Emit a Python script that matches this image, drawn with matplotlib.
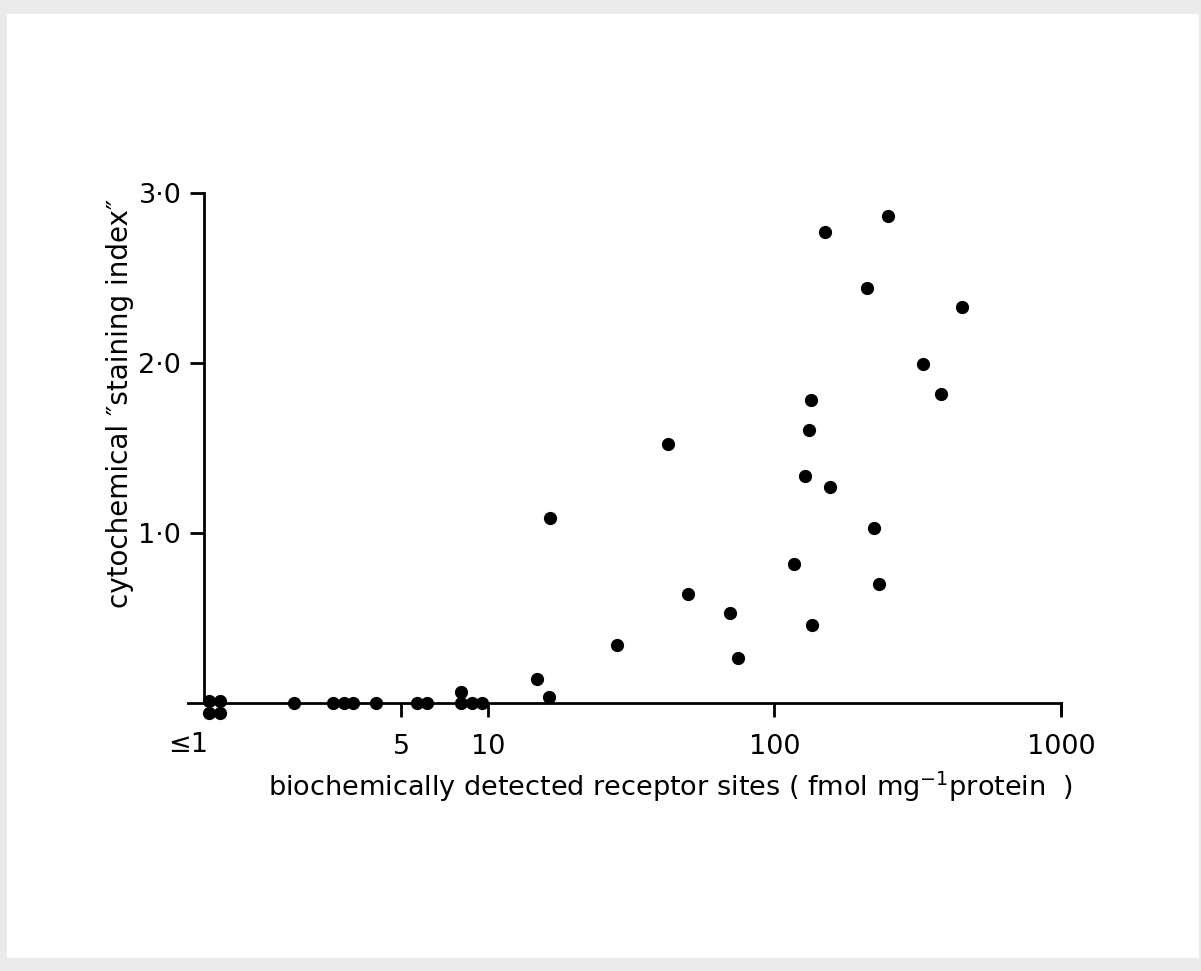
import matplotlib
matplotlib.use("Agg")
import matplotlib.pyplot as plt
from matplotlib.patches import Rectangle

# receptor sites (fmol/mg protein) vs cytochemical staining index
receptor_sites = [1.07, 1.16, 1.07, 1.16, 2.11, 2.88, 3.16, 3.38, 4.07, 5.66, 6.16,
                  8.05, 8.05, 8.83, 9.58, 14.8, 16.3, 16.5, 28.3, 42.7, 50.1, 70.3,
                  74.9, 117, 128, 132.5, 134, 135, 150.6, 156, 209.7, 222, 232,
                  249, 330, 383, 452]
staining_index = [0.01, 0.01, -0.06, -0.06, 0.0, 0.0, 0.0, 0.0, 0.0, 0.0, 0.0,
                  0.066, 0.0, 0.0, 0.0, 0.141, 0.037, 1.086, 0.343, 1.522, 0.641, 0.528,
                  0.267, 0.816, 1.335, 1.608, 1.782, 0.457, 2.772, 1.271, 2.443, 1.031, 0.700,
                  2.866, 1.996, 1.818, 2.331]

x_ticks = [1, 5, 10, 100, 1000]
x_ticklabels = ["≤1", "5", "10", "100", "1000"]
y_ticks = [1.0, 2.0, 3.0]
y_ticklabels = ["1·0", "2·0", "3·0"]

fig = plt.figure(figsize=(12.01, 9.71), dpi=100, facecolor="#ebebeb")
fig.patches.append(Rectangle((0.006, 0.013), 0.992, 0.973, transform=fig.transFigure,
                             facecolor="white", edgecolor="none", zorder=-10))

ax = fig.add_axes([0.1565, 0.2585, 0.7269, 0.5427])
ax.set_facecolor("none")
ax.set_xscale("log")
ax.set_xlim(0.9, 1000)
ax.set_ylim(-0.1, 3.0)

ax.plot(receptor_sites, staining_index, marker="o", markersize=8.5, linestyle="None",
        color="black", clip_on=False, zorder=3)

for s in ["top", "right"]:
    ax.spines[s].set_visible(False)
ax.spines["left"].set_position(("data", 1.02))
ax.spines["bottom"].set_position(("data", 0))
ax.spines["left"].set_bounds(0, 3.0)
ax.spines["left"].set_linewidth(2)
ax.spines["bottom"].set_linewidth(2)

ax.set_xticks(x_ticks[1:])
ax.set_xticklabels(x_ticklabels[1:])
ax.xaxis.set_minor_locator(plt.NullLocator())
ax.set_yticks(y_ticks)
ax.set_yticklabels(y_ticklabels)
ax.tick_params(axis="both", direction="out", length=10, width=2, labelsize=19.5, pad=12)
ax.tick_params(axis="y", pad=6)
ax.text(0.9, -0.247, x_ticklabels[0], fontsize=19.5, ha="center", va="center",
        transform=ax.transData, clip_on=False)

# extra tick at the end of the x axis
ax.plot([1000, 1000], [0, -0.06], color="black", lw=2, clip_on=False)

fig.text(0.558, 0.19, "biochemically detected receptor sites ( fmol mg$^{-1}$protein  )",
         fontsize=19.5, ha="center", va="center")
fig.text(0.1, 0.585, "cytochemical ″staining index″", fontsize=20, rotation=90,
         ha="center", va="center")

plt.savefig("out.png", dpi=100, facecolor=fig.get_facecolor())
